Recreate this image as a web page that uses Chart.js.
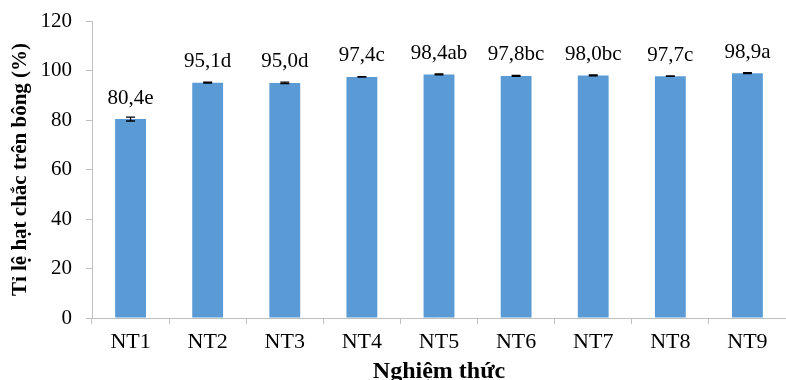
<!DOCTYPE html>
<html>
<head>
<meta charset="utf-8">
<script src="https://cdn.jsdelivr.net/npm/chart.js@4.4.0/dist/chart.umd.min.js"></script>
<style>
  html, body { margin: 0; padding: 0; background: #fff; overflow: hidden; }
  #wrap { width: 786px; height: 380px; position: relative; }
</style>
</head>
<body>
<div id="wrap"><canvas id="chart"></canvas></div>
<script>
// du lieu doc tu hinh
const categories = ['NT1', 'NT2', 'NT3', 'NT4', 'NT5', 'NT6', 'NT7', 'NT8', 'NT9'];
const values = [80.4, 95.1, 95.0, 97.4, 98.4, 97.8, 98.0, 97.7, 98.9];
const errors = [0.8, 0.2, 0.3, 0.1, 0.2, 0.2, 0.2, 0.1, 0.2];
const letters = ['e', 'd', 'd', 'c', 'ab', 'bc', 'bc', 'c', 'a'];
const yTicks = [0, 20, 40, 60, 80, 100, 120];

const serif = '"Liberation Serif", "Times New Roman", serif';
const axisColor = '#bfbfbf';

// thanh sai so + nhan tren cot
const extras = {
   id: 'extras',
   afterDatasetsDraw(chart) {
      const ctx = chart.ctx;
      const y = chart.scales.y;
      const meta = chart.getDatasetMeta(0);
      ctx.save();
      meta.data.forEach((bar, i) => {
         const top = y.getPixelForValue(values[i] + errors[i]);
         const bot = y.getPixelForValue(values[i] - errors[i]);
         ctx.strokeStyle = '#000';
         ctx.lineWidth = 1.3;
         ctx.beginPath();
         ctx.moveTo(bar.x, top); ctx.lineTo(bar.x, bot);
         ctx.moveTo(bar.x - 4.5, top); ctx.lineTo(bar.x + 4.5, top);
         ctx.moveTo(bar.x - 4.5, bot); ctx.lineTo(bar.x + 4.5, bot);
         ctx.stroke();

         ctx.fillStyle = '#000';
         ctx.font = '21px ' + serif;
         ctx.textAlign = 'center';
         ctx.textBaseline = 'middle';
         const txt = values[i].toFixed(1).replace('.', ',') + letters[i];
         ctx.fillText(txt, bar.x, bar.y - 21);
      });
      ctx.restore();
   }
};

new Chart(document.getElementById('chart'), {
   type: 'bar',
   data: {
      labels: categories,
      datasets: [{
         data: values,
         backgroundColor: '#5b9bd5',
         borderWidth: 0,
         barPercentage: 0.8,
         categoryPercentage: 0.5
      }]
   },
   options: {
      responsive: true,
      maintainAspectRatio: false,
      animation: false,
      devicePixelRatio: 1,
      layout: { padding: { top: 21, right: 0, left: 0, bottom: 0 } },
      plugins: {
         legend: { display: false },
         tooltip: { enabled: false }
      },
      scales: {
         x: {
            grid: { drawOnChartArea: false, drawTicks: true, tickLength: 6, color: axisColor, offset: true },
            border: { color: axisColor },
            ticks: { color: '#000', font: { family: serif, size: 22 }, padding: 5 },
            title: {
               display: true,
               text: 'Nghiệm thức',
               color: '#000',
               font: { family: serif, size: 24, weight: 'bold', lineHeight: 1 },
               padding: { top: 0, bottom: -4 }
            },
            afterFit(s) { s.height = 62; }
         },
         y: {
            min: 0,
            max: 120,
            afterBuildTicks(s) { s.ticks = yTicks.map(v => ({ value: v })); },
            grid: { drawOnChartArea: false, drawTicks: true, tickLength: 6, color: axisColor },
            border: { color: axisColor },
            ticks: { color: '#000', font: { family: serif, size: 21 }, padding: 14 },
            title: {
               display: true,
               text: 'Tỉ lệ hạt chắc trên bông (%)',
               color: '#000',
               font: { family: serif, size: 21, weight: 'bold', lineHeight: 1.2 },
               padding: { top: 8, bottom: 0 }
            },
            afterFit(s) {
               s.width = 92;
               s.paddingTop = 0;
               s.paddingBottom = 0;
            }
         }
      }
   },
   plugins: [extras]
});
</script>
</body>
</html>
